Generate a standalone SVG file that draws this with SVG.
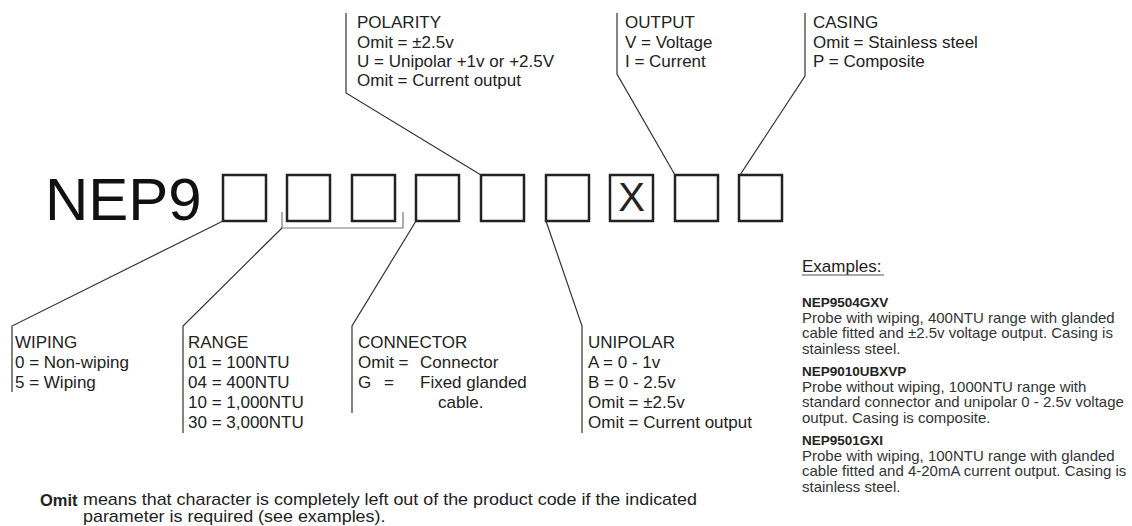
<svg xmlns="http://www.w3.org/2000/svg" width="1132" height="526" viewBox="0 0 1132 526">
<style>
  text { font-family: "Liberation Sans", Arial, sans-serif; fill: #222; }
  .lbl { font-size: 17px; }
  .big { font-size: 60px; fill: #111; }
  .box { fill: #fff; stroke: #222; stroke-width: 2.5; }
  .ln { fill: none; stroke: #333; stroke-width: 1.2; }
  .br { fill: none; stroke: #777; stroke-width: 1.2; }
  .exb { font-size: 13.5px; font-weight: bold; }
  .ex { font-size: 15px; fill: #333; }
  .note { font-size: 16px; }
</style>
<rect width="1132" height="526" fill="#fff"/>

<g id="code">
  <text class="big" x="45" y="220">NEP9</text>
  <rect class="box" x="223" y="175" width="43" height="46"/>
  <rect class="box" x="287" y="175" width="43" height="46"/>
  <rect class="box" x="352" y="175" width="43" height="46"/>
  <rect class="box" x="416" y="175" width="43" height="46"/>
  <rect class="box" x="481" y="175" width="43" height="46"/>
  <rect class="box" x="546" y="175" width="43" height="46"/>
  <rect class="box" x="610" y="175" width="43" height="46"/>
  <text x="631.5" y="211" font-size="40" text-anchor="middle" fill="#111">X</text>
  <rect class="box" x="675" y="175" width="43" height="46"/>
  <rect class="box" x="739" y="175" width="43" height="46"/>
</g>

<g id="connectors">
  <polyline class="br" points="282,212 282,228 403,228 403,212"/>
  <polyline class="ln" points="223,221 12,326 12,392"/>
  <polyline class="ln" points="282,228 183,326 183,433"/>
  <polyline class="ln" points="416,221 352,326 352,413"/>
  <polyline class="ln" points="546,221 582,326 582,433"/>
  <polyline class="ln" points="481,175 346,93 346,13"/>
  <polyline class="ln" points="675,175 617,74 617,13"/>
  <polyline class="ln" points="740,175 805,76 805,13"/>
</g>

<g id="polarity">
  <text class="lbl" x="357" y="28">POLARITY</text>
  <text class="lbl" x="357" y="47.5">Omit = ±2.5v</text>
  <text class="lbl" x="357" y="66.5">U = Unipolar +1v or +2.5V</text>
  <text class="lbl" x="357" y="85.5">Omit = Current output</text>
</g>

<g id="output">
  <text class="lbl" x="625" y="28">OUTPUT</text>
  <text class="lbl" x="625" y="47.5">V = Voltage</text>
  <text class="lbl" x="625" y="66.5">I = Current</text>
</g>

<g id="casing">
  <text class="lbl" x="813" y="28">CASING</text>
  <text class="lbl" x="813" y="47.5">Omit = Stainless steel</text>
  <text class="lbl" x="813" y="66.5">P = Composite</text>
</g>

<g id="wiping">
  <text class="lbl" x="15" y="348">WIPING</text>
  <text class="lbl" x="15" y="368">0 = Non-wiping</text>
  <text class="lbl" x="15" y="388">5 = Wiping</text>
</g>

<g id="range">
  <text class="lbl" x="188" y="348">RANGE</text>
  <text class="lbl" x="188" y="368">01 = 100NTU</text>
  <text class="lbl" x="188" y="388">04 = 400NTU</text>
  <text class="lbl" x="188" y="408">10 = 1,000NTU</text>
  <text class="lbl" x="188" y="428">30 = 3,000NTU</text>
</g>

<g id="connector">
  <text class="lbl" x="358" y="348">CONNECTOR</text>
  <text class="lbl" x="358" y="368">Omit =</text>
  <text class="lbl" x="420" y="368">Connector</text>
  <text class="lbl" x="358" y="388">G</text>
  <text class="lbl" x="384" y="388">=</text>
  <text class="lbl" x="420" y="388">Fixed glanded</text>
  <text class="lbl" x="438" y="408">cable.</text>
</g>

<g id="unipolar">
  <text class="lbl" x="588" y="348">UNIPOLAR</text>
  <text class="lbl" x="588" y="368">A = 0 - 1v</text>
  <text class="lbl" x="588" y="388">B = 0 - 2.5v</text>
  <text class="lbl" x="588" y="408">Omit = ±2.5v</text>
  <text class="lbl" x="588" y="428">Omit = Current output</text>
</g>

<g id="note">
  <text x="40" y="505.5" font-size="16.5" font-weight="bold">Omit</text>
  <g transform="translate(83,0) scale(1.12,1)">
    <text class="note" x="0" y="505.5">means that character is completely left out of the product code if the indicated</text>
    <text class="note" x="0" y="522.5">parameter is required (see examples).</text>
  </g>
</g>

<g id="examples">
  <text x="802" y="272" font-size="17" fill="#333">Examples:</text>
  <line x1="802" y1="275" x2="884" y2="275" stroke="#555" stroke-width="1"/>
  <text class="exb" x="802" y="307">NEP9504GXV</text>
  <text class="ex" x="802" y="322.5">Probe with wiping, 400NTU range with glanded</text>
  <text class="ex" x="802" y="338">cable fitted and ±2.5v voltage output. Casing is</text>
  <text class="ex" x="802" y="353.5">stainless steel.</text>
  <text class="exb" x="802" y="376">NEP9010UBXVP</text>
  <text class="ex" x="802" y="391.5">Probe without wiping, 1000NTU range with</text>
  <text class="ex" x="802" y="407">standard connector and unipolar 0 - 2.5v voltage</text>
  <text class="ex" x="802" y="423">output. Casing is composite.</text>
  <text class="exb" x="802" y="445">NEP9501GXI</text>
  <text class="ex" x="802" y="460.5">Probe with wiping, 100NTU range with glanded</text>
  <text class="ex" x="802" y="476">cable fitted and 4-20mA current output. Casing is</text>
  <text class="ex" x="802" y="492">stainless steel.</text>
</g>
</svg>
